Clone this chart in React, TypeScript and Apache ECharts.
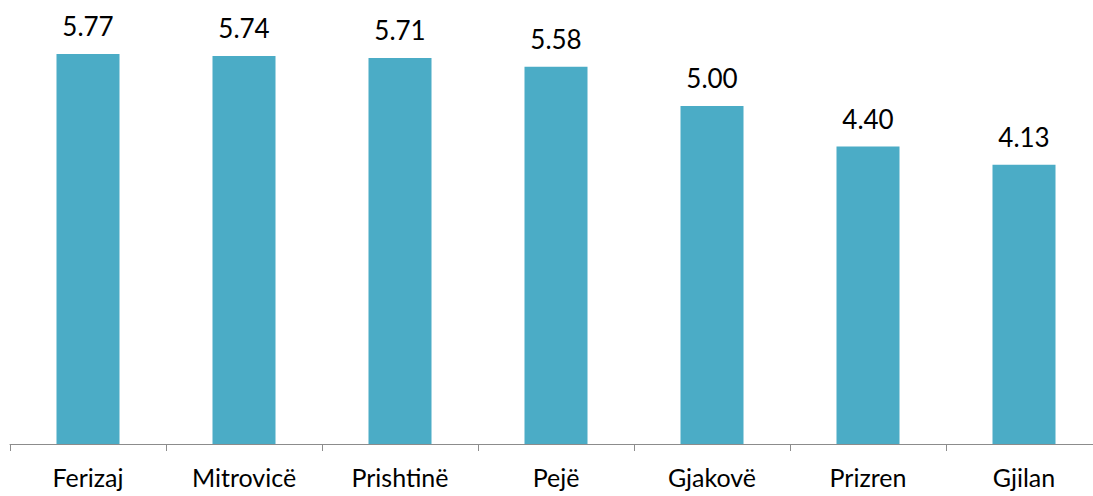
import React, { useEffect, useRef } from "react";
import * as echarts from "echarts";

const categories = ["Ferizaj", "Mitrovicë", "Prishtinë", "Pejë", "Gjakovë", "Prizren", "Gjilan"];
const values = [5.77, 5.74, 5.71, 5.58, 5.0, 4.4, 4.13];

export default function App() {
  const ref = useRef<HTMLDivElement>(null);
  useEffect(() => {
    const chart = echarts.init(ref.current!, null, { renderer: "svg" });
    chart.setOption({
      animation: false,
      grid: { left: 10, top: 38.4, width: 1092, height: 405.6, outerBoundsMode: "none" },
      xAxis: {
        type: "category",
        data: categories,
        axisLine: { lineStyle: { color: "#8c8c8c", width: 1 } },
        axisTick: { show: true, length: 7, lineStyle: { color: "#8c8c8c" } },
        axisLabel: { color: "#000", fontFamily: "Lato", fontSize: 25, lineHeight: 22, margin: 22 },
      },
      yAxis: {
        type: "value",
        min: 0,
        max: 6,
        show: false,
        splitLine: { show: false },
      },
      series: [
        {
          type: "bar",
          data: values,
          barWidth: 63,
          itemStyle: { color: "#4BACC6" },
          label: {
            show: true,
            position: "top",
            distance: 15,
            color: "#000",
            fontFamily: "Lato",
            fontSize: 26,
            formatter: (p: any) => Number(p.value).toFixed(2),
          },
        },
      ],
    });
    return () => chart.dispose();
  }, []);
  return (
    <div
      ref={ref}
      style={{ position: "fixed", left: 0, top: 0, width: 1093, height: 496, background: "#fff" }}
    />
  );
}
